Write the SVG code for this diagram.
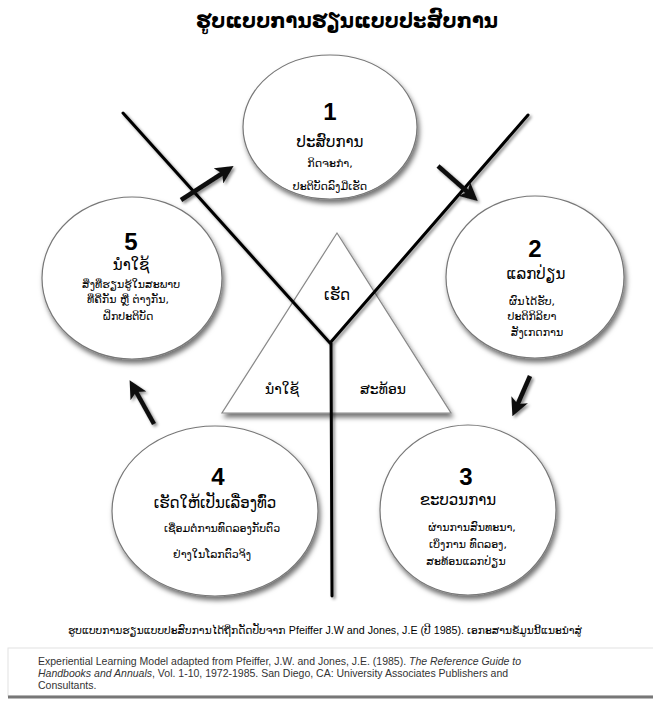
<svg xmlns="http://www.w3.org/2000/svg" width="653" height="701" viewBox="0 0 653 701">
<defs>
<filter id="sh" x="-20%" y="-20%" width="150%" height="150%">
<feDropShadow dx="2" dy="4" stdDeviation="2.5" flood-color="#000" flood-opacity="0.55"/>
</filter>
<filter id="ash" x="-30%" y="-30%" width="170%" height="170%">
<feDropShadow dx="2" dy="2" stdDeviation="1.5" flood-color="#000" flood-opacity="0.45"/>
</filter>
<marker id="ah" markerWidth="4" markerHeight="4" refX="2" refY="2" orient="auto" markerUnits="strokeWidth">
<path d="M0,0 L4,2 L0,4 L1,2 Z" fill="#111"/>
</marker>
<style>
.c{fill:#fff;stroke:#777;stroke-width:1.2;filter:url(#sh)}
.lao{font-family:"DejaVu Sans","Noto Sans",sans-serif;fill:#000;text-anchor:middle}
.num{font-family:"Liberation Sans",Arial,sans-serif;font-weight:bold;font-size:24px;text-anchor:middle;fill:#000}
.h{font-size:15px}
.s{font-size:11px}
.ln{stroke:#000;stroke-width:3;fill:none;stroke-linecap:round;filter:url(#ash)}
.ar{stroke:#111;stroke-width:4.5;fill:none;marker-end:url(#ah);filter:url(#ash)}
.ref{font-family:"Liberation Sans",Arial,sans-serif;font-size:10.5px;fill:#333}
</style>
</defs>
<rect width="653" height="701" fill="#fff"/>
<text class="lao" x="347" y="28" font-size="22" font-weight="bold" textLength="302" lengthAdjust="spacingAndGlyphs">ຮູບແບບການຮຽນແບບປະສົບການ</text>

<g id="triangle">
<polygon points="337,233 222,413 451,413" fill="#fff" stroke="#888" stroke-width="1.2" filter="url(#sh)"/>
<text class="lao" x="337" y="300" font-size="15">ເຮັດ</text>
<text class="lao" x="282" y="394" font-size="14">ນຳໃຊ້</text>
<text class="lao" x="383" y="394" font-size="14">ສະທ້ອນ</text>
</g>

<g id="connectors">
<path class="ln" d="M123,113 L330,343 L528,115 M331,343 L332,596"/>
<path class="ar" d="M181,200 L226,171"/>
<path class="ar" d="M438,166 L471,195"/>
<path class="ar" d="M530,376 L516,408"/>
<path class="ar" d="M362,515 L317,515"/>
<path class="ar" d="M154,424 L134,388"/>
</g>

<g id="node1">
<ellipse class="c" cx="330" cy="127" rx="87" ry="72"/>
<text class="num" x="330" y="120">1</text>
<text class="lao h" x="330" y="147">ປະສົບການ</text>
<text class="lao s" x="330" y="167">ກິດຈະກຳ,</text>
<text class="lao s" x="330" y="190">ປະຕິບັດລົງມືເຮັດ</text>
</g>

<g id="node2">
<ellipse class="c" cx="535" cy="277" rx="89" ry="81"/>
<text class="num" x="535" y="257">2</text>
<text class="lao h" x="536" y="279">ແລກປ່ຽນ</text>
<text class="lao s" x="532" y="305">ຜົນໄດ້ຮັບ,</text>
<text class="lao s" x="532" y="320">ປະຕິກິລິຍາ</text>
<text class="lao s" x="537" y="336">ສັງເກດການ</text>
</g>

<g id="node5">
<ellipse class="c" cx="132" cy="278" rx="90" ry="81"/>
<text class="num" x="131" y="250">5</text>
<text class="lao h" x="131" y="270">ນຳໃຊ້</text>
<text class="lao s" x="131" y="288">ສິ່ງທີ່ຮຽນຮູ້ໃນສະພາບ</text>
<text class="lao s" x="128" y="303">ທີ່ຄືກັນ ຫຼື ຕ່າງກັນ,</text>
<text class="lao s" x="128" y="320">ຝຶກປະຕິບັດ</text>
</g>

<g id="node3">
<ellipse class="c" cx="468" cy="510" rx="88" ry="85"/>
<text class="num" x="466" y="485">3</text>
<text class="lao h" x="458" y="505">ຂະບວນການ</text>
<text class="lao s" x="472" y="531">ຜ່ານການສົນທະນາ,</text>
<text class="lao s" x="468" y="548">ເບິ່ງການ ທົດລອງ,</text>
<text class="lao s" x="466" y="565">ສະທ້ອນແລກປ່ຽນ</text>
</g>

<g id="node4">
<ellipse class="c" cx="215" cy="511" rx="103" ry="85"/>
<text class="num" x="218" y="485">4</text>
<text class="lao h" x="215" y="508">ເຮັດໃຫ້ເປັນເລື່ອງທົ່ວ</text>
<text class="lao s" x="222" y="532">ເຊື່ອມຕໍ່ການທົດລອງກັບຕົວ</text>
<text class="lao s" x="212" y="558">ຢ່າງໃນໂລກຕົວຈິງ</text>
</g>

<text class="lao" x="325" y="634" font-size="10.7">ຮູບແບບການຮຽນແບບປະສົບການໄດ້ຖືກດັດປັບຈາກ <tspan font-family="Liberation Sans, Arial, sans-serif">Pfeiffer J.W and Jones, J.E (</tspan>ປີ<tspan font-family="Liberation Sans, Arial, sans-serif"> 1985). </tspan>ເອກະສານຂໍ້ມູນນີ້ແນະນຳສູ່</text>

<g id="reference">
<rect x="8" y="648" width="650" height="48" fill="#fff" stroke="#e2e2e2" stroke-width="1"/>
<line x1="8" y1="697" x2="653" y2="697" stroke="#777" stroke-width="3"/>
<text class="ref" x="38" y="665">Experiential Learning Model adapted from Pfeiffer, J.W. and Jones, J.E. (1985). <tspan font-style="italic">The Reference Guide to</tspan></text>
<text class="ref" x="38" y="677"><tspan font-style="italic">Handbooks and Annuals</tspan>, Vol. 1-10, 1972-1985. San Diego, CA: University Associates Publishers and</text>
<text class="ref" x="38" y="689">Consultants.</text>
</g>
</svg>
